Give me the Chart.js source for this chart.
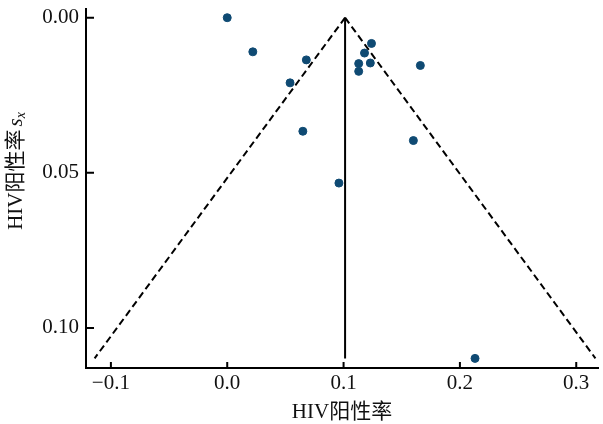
<!DOCTYPE html>
<html>
<head>
<meta charset="utf-8">
<script src="https://cdn.jsdelivr.net/npm/chart.js@4/dist/chart.umd.min.js"></script>
<style>
  html, body { margin: 0; padding: 0; background: #fff; }
  #wrap { width: 603px; height: 424px; position: relative; }
</style>
</head>
<body>
<div id="wrap"><canvas id="funnel"></canvas></div>
<script>
  // 各研究 HIV 阳性率 (x) 与标准误 (y)
  const rateValues = [0.000, 0.022, 0.054, 0.068, 0.065, 0.096, 0.124, 0.118, 0.113, 0.113, 0.123, 0.166, 0.160, 0.213];
  const seValues   = [0.000, 0.011, 0.021, 0.0136, 0.0366, 0.0533, 0.0083, 0.0114, 0.0148, 0.0173, 0.0146, 0.0154, 0.0396, 0.1098];

  // 合并率竖线与 95% 置信限虚线端点
  const pooledX = [0.1013, 0.1013];
  const pooledY = [0.0, 0.1098];
  const lowerX = [0.1013, -0.1140];
  const lowerY = [0.0, 0.1098];
  const upperX = [0.1013, 0.3165];
  const upperY = [0.0, 0.1098];

  const xTicks = [-0.1, 0.0, 0.1, 0.2, 0.3];
  const yTicks = [0.00, 0.05, 0.10];

  const serif = "'Liberation Serif', 'Times New Roman', 'Noto Sans CJK SC', serif";
  const toPoints = (xs, ys) => xs.map((x, i) => ({ x, y: ys[i] }));
  const fmtX = (v) => {
    const s = Math.abs(v) < 1e-9 ? "0.0" : v.toFixed(1);
    return s.replace("-", "\u2212");
  };

  // 向内的刻度线 + y 轴标题
  const innerTicks = {
    id: "innerTicks",
    afterDraw(chart) {
      const { ctx, chartArea, scales } = chart;
      ctx.save();
      ctx.strokeStyle = "#000";
      ctx.lineWidth = 2;
      ctx.beginPath();
      xTicks.forEach((v) => {
        const px = scales.x.getPixelForValue(v);
        ctx.moveTo(px, chartArea.bottom);
        ctx.lineTo(px, chartArea.bottom - 6);
      });
      yTicks.forEach((v) => {
        const py = scales.y.getPixelForValue(v);
        ctx.moveTo(chartArea.left, py);
        ctx.lineTo(chartArea.left + 8, py);
      });
      ctx.stroke();

      // HIV阳性率 s_x
      ctx.translate(16, 171);
      ctx.rotate(-Math.PI / 2);
      ctx.fillStyle = "#111";
      ctx.textBaseline = "middle";
      ctx.textAlign = "left";
      const main = "HIV阳性率";
      ctx.font = "21px " + serif;
      const w1 = ctx.measureText(main).width;
      ctx.font = "italic 21px " + serif;
      const w2 = ctx.measureText("s").width;
      ctx.font = "italic 14px " + serif;
      const w3 = ctx.measureText("x").width;
      let x0 = -(w1 + 3 + w2 + w3) / 2;
      ctx.font = "21px " + serif;
      ctx.fillText(main, x0, 0);
      x0 += w1 + 3;
      ctx.font = "italic 21px " + serif;
      ctx.fillText("s", x0, 0);
      x0 += w2;
      ctx.font = "italic 14px " + serif;
      ctx.fillText("x", x0, 5);
      ctx.restore();
    }
  };

  new Chart(document.getElementById("funnel"), {
    type: "scatter",
    data: {
      datasets: [
        {
          label: "研究",
          data: toPoints(rateValues, seValues),
          backgroundColor: "#0f4a73",
          borderColor: "#0f4a73",
          pointRadius: 4,
          pointHoverRadius: 4,
          order: 0
        },
        {
          label: "合并率",
          data: toPoints(pooledX, pooledY),
          showLine: true,
          borderColor: "#000",
          borderWidth: 2,
          pointRadius: 0,
          order: 1
        },
        {
          label: "下限",
          data: toPoints(lowerX, lowerY),
          showLine: true,
          borderColor: "#000",
          borderWidth: 2,
          borderDash: [7, 4],
          pointRadius: 0,
          order: 1
        },
        {
          label: "上限",
          data: toPoints(upperX, upperY),
          showLine: true,
          borderColor: "#000",
          borderWidth: 2,
          borderDash: [7, 4],
          pointRadius: 0,
          order: 1
        }
      ]
    },
    options: {
      responsive: true,
      maintainAspectRatio: false,
      animation: false,
      layout: { padding: { top: 9, right: 3, left: 0, bottom: 0 } },
      plugins: {
        legend: { display: false },
        tooltip: { enabled: false }
      },
      scales: {
        x: {
          type: "linear",
          min: -0.1214,
          max: 0.3187,
          afterBuildTicks: (scale) => { scale.ticks = xTicks.map((value) => ({ value })); },
          afterFit: (scale) => { scale.height = 56; },
          grid: { display: false },
          border: { display: true, color: "#000", width: 2 },
          ticks: {
            color: "#111",
            padding: -1,
            maxRotation: 0,
            font: { family: serif, size: 21, lineHeight: 0.8 },
            callback: (v) => fmtX(v)
          },
          title: {
            display: true,
            text: "HIV阳性率",
            color: "#111",
            padding: { top: 0, bottom: 0 },
            font: { family: serif, size: 21, lineHeight: 1.1 }
          }
        },
        y: {
          type: "linear",
          reverse: true,
          min: -0.0028,
          max: 0.1129,
          afterBuildTicks: (scale) => { scale.ticks = yTicks.map((value) => ({ value })); },
          afterFit: (scale) => { scale.width = 86; },
          grid: { display: false },
          border: { display: true, color: "#000", width: 2 },
          ticks: {
            color: "#111",
            padding: -1,
            font: { family: serif, size: 21, lineHeight: 0.4 },
            callback: (v) => v.toFixed(2)
          }
        }
      }
    },
    plugins: [innerTicks]
  });
</script>
</body>
</html>
